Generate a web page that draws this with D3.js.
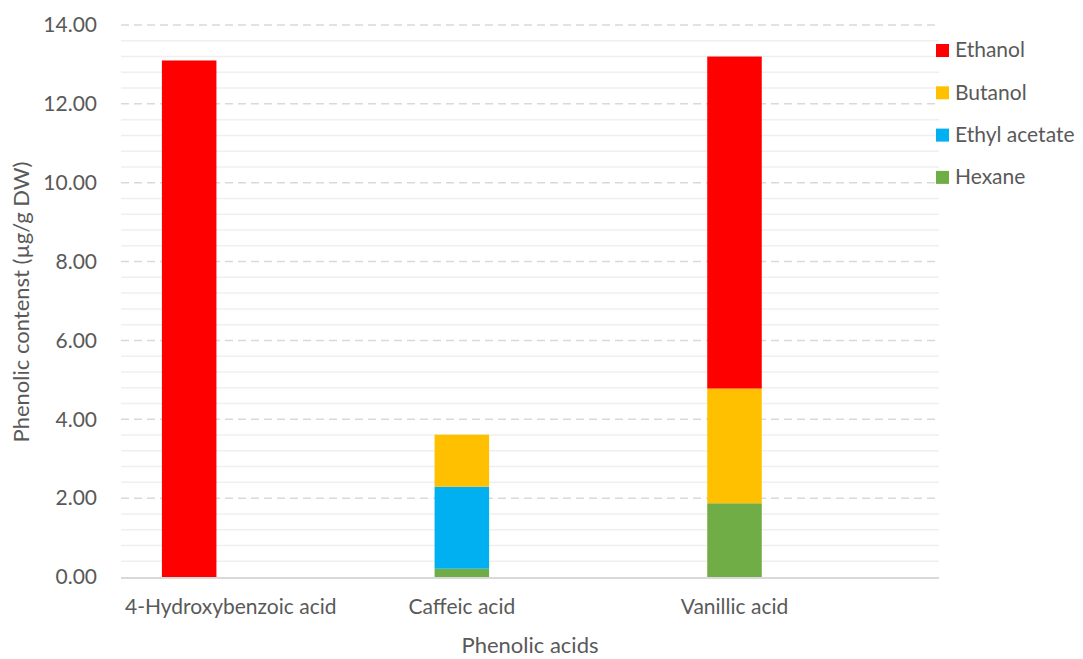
<!DOCTYPE html>
<html>
<head>
<meta charset="utf-8">
<script src="https://cdn.jsdelivr.net/npm/d3@7"></script>
<style>
  body { margin: 0; background: #fff; }
  text { font-family: Lato, "Open Sans", sans-serif; fill: #595959; }
</style>
</head>
<body>
<svg id="chart" width="1083" height="659"></svg>
<script>
// data
var categories = ["4-Hydroxybenzoic acid", "Caffeic acid", "Vanillic acid"];
var seriesNames = ["Hexane", "Ethyl acetate", "Butanol", "Ethanol"];
var hexane = [0, 0.21, 1.87];
var ethylAcetate = [0, 2.08, 0];
var butanol = [0, 1.32, 2.91];
var ethanol = [13.1, 0, 8.42];
var yTicks = [0, 2, 4, 6, 8, 10, 12, 14];
var colors = ["#70AD47", "#00B0F0", "#FFC000", "#FF0000"];

var svg = d3.select("#chart");
var plotLeft = 121, plotRight = 939, plotTop = 25, plotBottom = 577;

// table for d3.stack
var rows = categories.map(function(c, i) {
  return { cat: c, "Hexane": hexane[i], "Ethyl acetate": ethylAcetate[i],
           "Butanol": butanol[i], "Ethanol": ethanol[i] };
});
var stacked = d3.stack().keys(seriesNames)(rows);

var y = d3.scaleLinear().domain([0, 14]).range([plotBottom, plotTop]);
var x0 = d3.scaleBand().domain(categories).range([plotLeft, plotRight]);
// each category has two slots, only the first one holds the stack
var x1 = d3.scaleBand().domain(["stack", "none"]).range([0, x0.bandwidth()])
  .paddingInner(0.6).paddingOuter(0.3);

// minor grid
var minor = d3.range(0.4, 14, 0.4).filter(function(v) { return Math.abs(v / 2 - Math.round(v / 2)) > 0.01; });
svg.append("g").selectAll("line").data(minor).join("line")
  .attr("x1", plotLeft).attr("x2", plotRight)
  .attr("y1", function(d) { return y(d); }).attr("y2", function(d) { return y(d); })
  .attr("stroke", "#EFEFEF").attr("stroke-width", 1.5);

// major dashed grid
svg.append("g").selectAll("line").data(yTicks.slice(1)).join("line")
  .attr("x1", plotLeft).attr("x2", plotRight)
  .attr("y1", function(d) { return y(d); }).attr("y2", function(d) { return y(d); })
  .attr("stroke", "#D9D9D9").attr("stroke-width", 1.5).attr("stroke-dasharray", "8,5");

// y tick labels
svg.append("g").selectAll("text").data(yTicks).join("text")
  .attr("x", 97).attr("y", function(d) { return y(d); })
  .attr("dy", "0.35em").attr("text-anchor", "end")
  .style("font-size", "21px")
  .text(d3.format(".2f"));

// bars
var layers = svg.append("g").selectAll("g").data(stacked).join("g")
  .attr("fill", function(d, i) { return colors[i]; });
layers.selectAll("rect").data(function(d) { return d; }).join("rect")
  .attr("x", function(d) { return x0(d.data.cat) + x1("stack"); })
  .attr("width", x1.bandwidth())
  .attr("y", function(d) { return y(d[1]); })
  .attr("height", function(d) { return y(d[0]) - y(d[1]); });

// axis line
svg.append("line").attr("x1", plotLeft).attr("x2", plotRight)
  .attr("y1", plotBottom + 1).attr("y2", plotBottom + 1)
  .attr("stroke", "#D9D9D9").attr("stroke-width", 2);

// category labels, kept inside the plot on the left
svg.append("g").selectAll("text").data(categories).join("text")
  .attr("y", 614).attr("text-anchor", "middle")
  .style("font-size", "21px")
  .text(function(d) { return d; })
  .each(function(d) {
    var cx = x0(d) + x1("stack") + x1.bandwidth() / 2;
    var w = this.getComputedTextLength();
    if (cx - w / 2 < plotLeft + 4) cx = plotLeft + 4 + w / 2;
    d3.select(this).attr("x", cx);
  });

// axis titles
svg.append("text").attr("x", (plotLeft + plotRight) / 2).attr("y", 653)
  .attr("text-anchor", "middle").style("font-size", "22px")
  .text("Phenolic acids");
svg.append("text")
  .attr("transform", "translate(29," + ((plotTop + plotBottom) / 2 + 1) + ") rotate(-90)")
  .attr("text-anchor", "middle").style("font-size", "22px")
  .text("Phenolic contenst (µg/g DW)");

// legend, top entry first
var legendNames = seriesNames.slice().reverse();
var legend = svg.append("g").selectAll("g").data(legendNames).join("g")
  .attr("transform", function(d, i) { return "translate(936," + (50 + i * 42.3) + ")"; });
legend.append("rect").attr("x", 0).attr("y", -6).attr("width", 13).attr("height", 13)
  .attr("fill", function(d) { return colors[seriesNames.indexOf(d)]; });
legend.append("text").attr("x", 19).attr("dy", "0.35em")
  .style("font-size", "21px").text(function(d) { return d; });
</script>
</body>
</html>
